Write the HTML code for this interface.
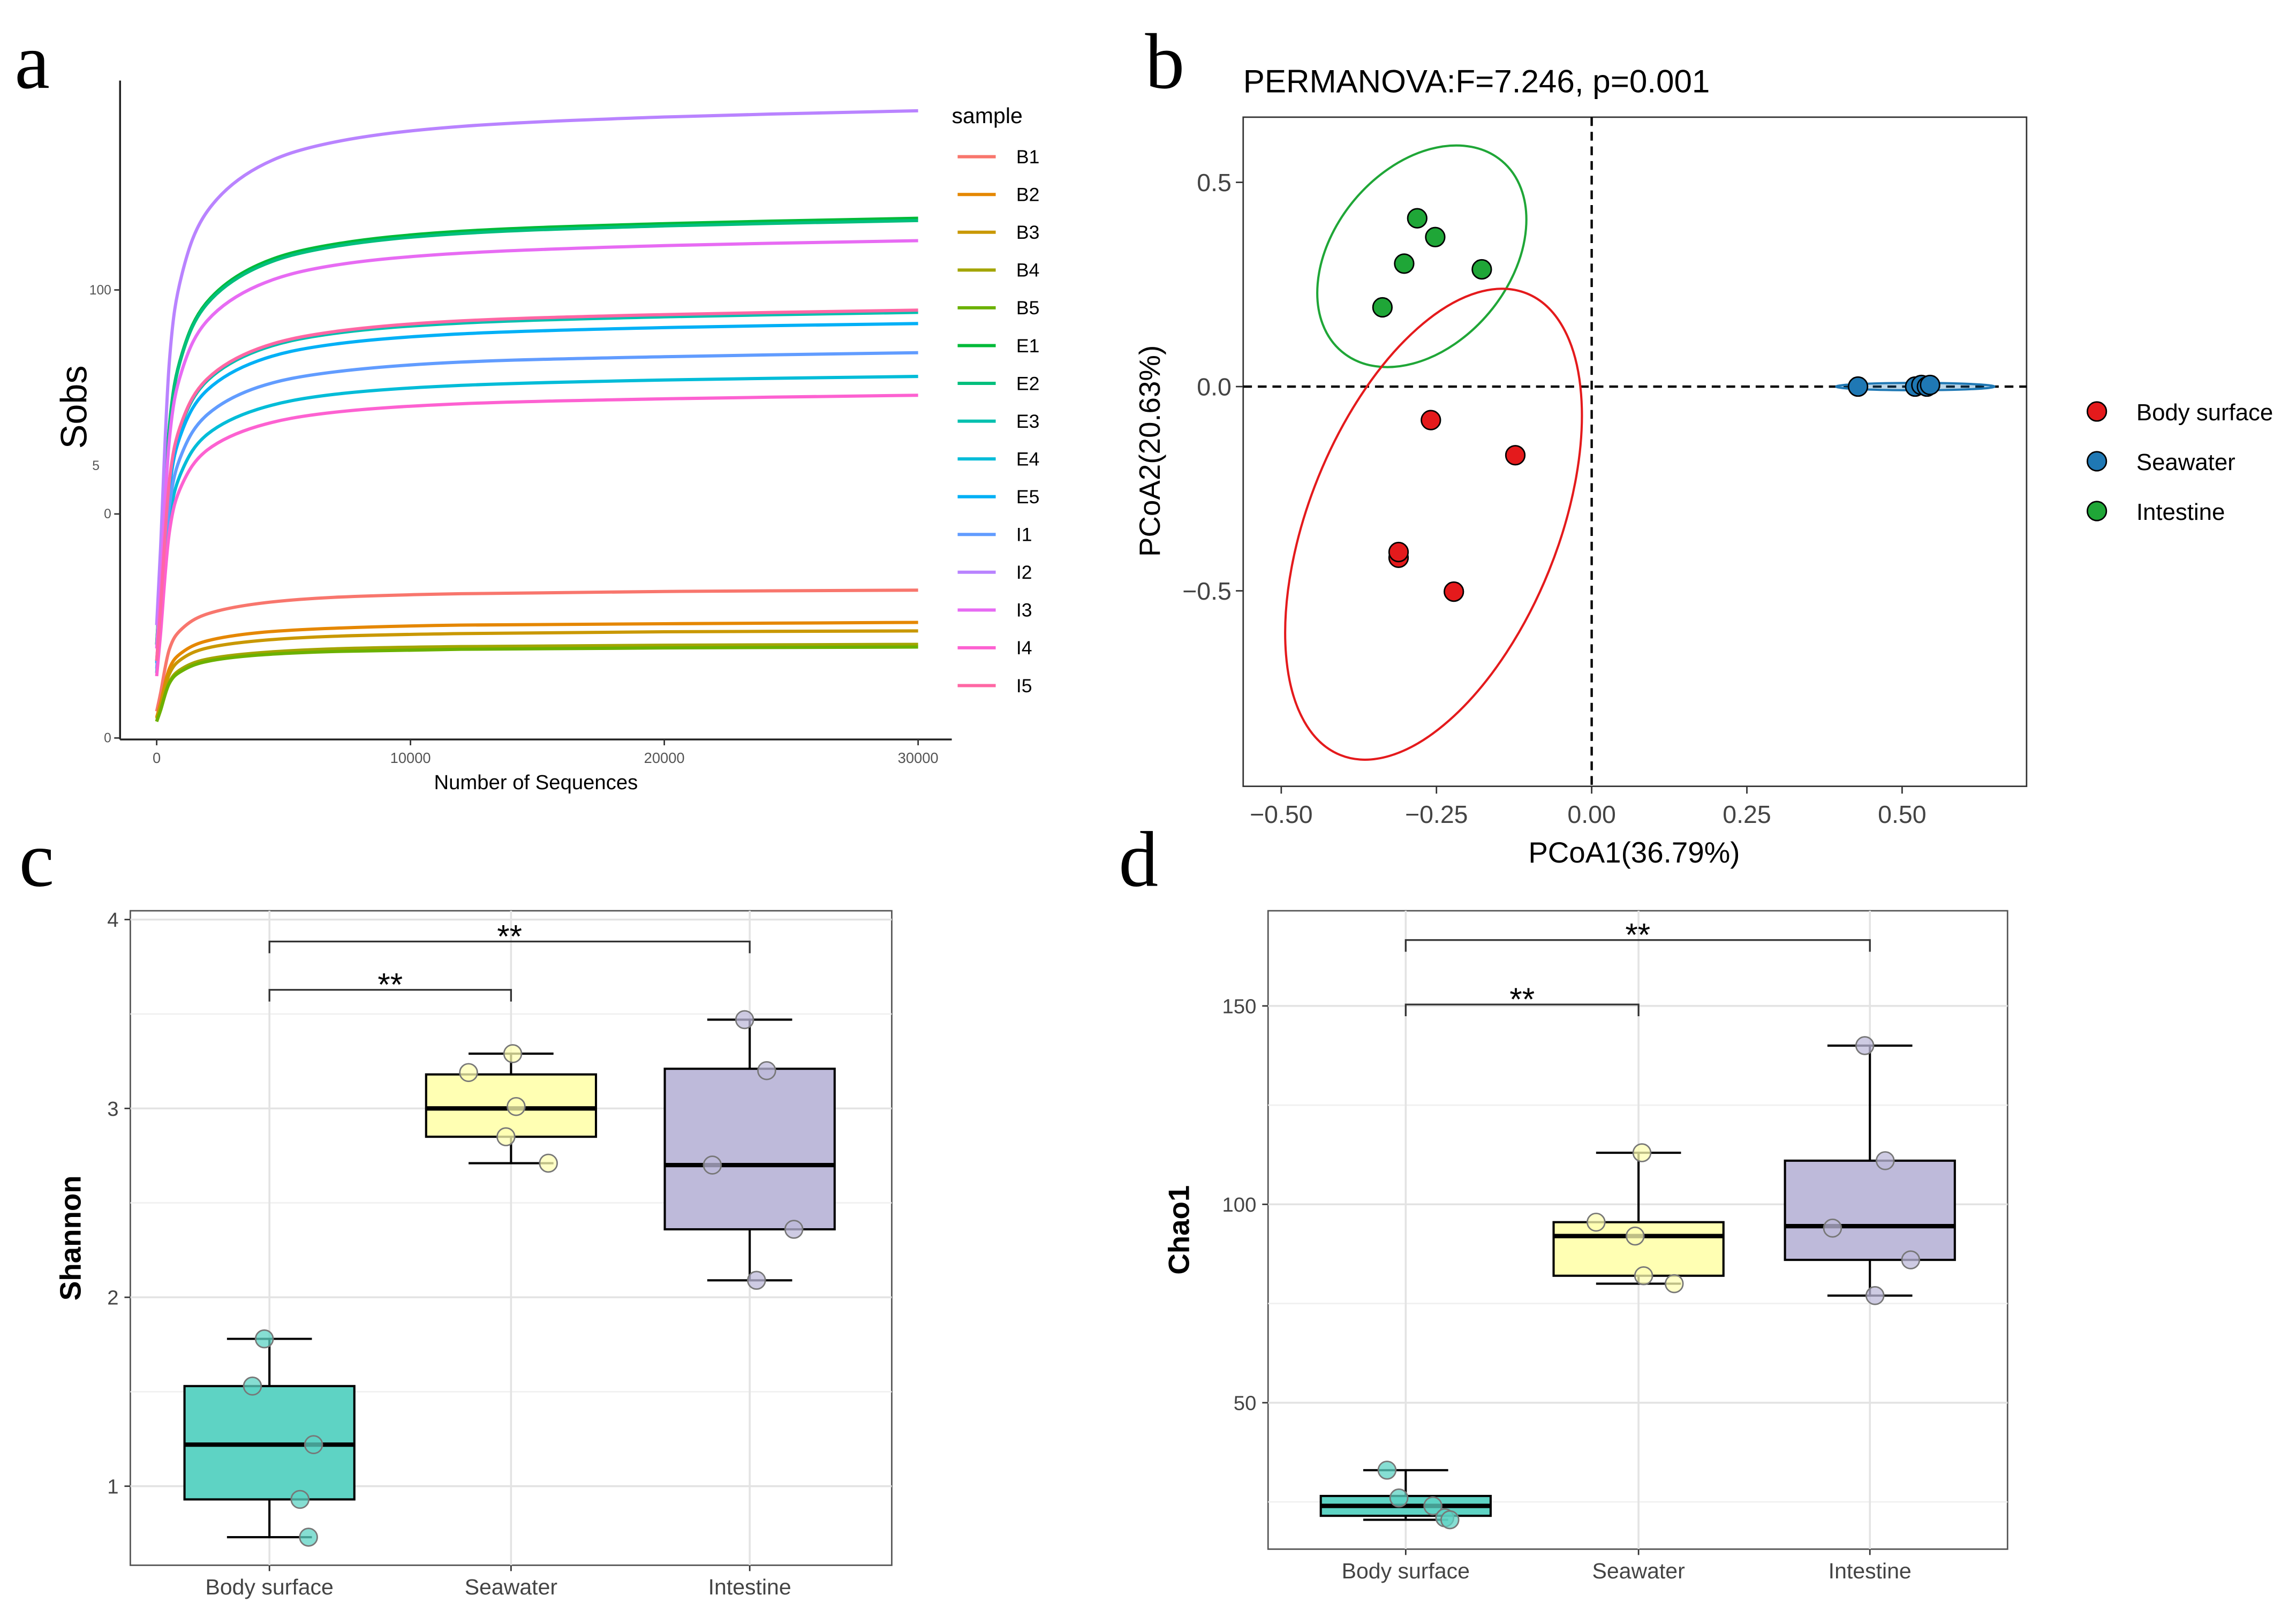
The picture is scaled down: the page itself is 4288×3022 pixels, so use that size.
<!DOCTYPE html>
<html><head><meta charset="utf-8">
<style>
html,body{margin:0;padding:0;background:#fff;}
svg{display:block;font-family:"Liberation Sans",sans-serif;}
</style></head>
<body>
<svg id="fig" width="4288" height="3022" viewBox="0 0 1568 1105" xmlns="http://www.w3.org/2000/svg">
<rect width="1568" height="1105" fill="#fff"/>
<g font-family="Liberation Serif,serif" font-size="54" fill="#000">
<text x="10" y="60">a</text>
<text x="782" y="60">b</text>
<text x="13" y="605">c</text>
<text x="764" y="605">d</text>
</g>
<g id="pa"></g>
<g id="pb"></g>
<g id="pc"></g>
<g id="pd"></g>
</svg>
<script>
// ---------- Panel a data ----------
const rareDepths = [150, 500, 1000, 2000, 4000, 7000, 12000, 20000, 30000];
const sampleNames = ["B1","B2","B3","B4","B5","E1","E2","E3","E4","E5","I1","I2","I3","I4","I5"];
const sampleColors = ["#F8766D","#E58700","#C99800","#A3A500","#6BB100","#00BA38","#00BF7D","#00C0AF","#00BCD8","#00B0F6","#619CFF","#B983FF","#E76BF3","#FD61D1","#FF67A4"];
const rareB1 = [9.9,19.8,24.4,27.7,30,31.4,32.2,32.7,33];
const rareB2 = [7.7,15.5,19.1,21.7,23.5,24.5,25.2,25.5,25.8];
const rareB3 = [7.2,14.3,17.7,20.1,21.7,22.7,23.3,23.7,23.9];
const rareB4 = [6.3,12.5,15.5,17.6,19,19.9,20.4,20.7,20.9];
const rareB5 = [6.1,12.2,15,17.1,18.5,19.3,19.8,20.1,20.3];
const rareE1 = [34.8,69.6,85.8,97.4,105.6,110.2,113.1,114.8,116];
const rareE2 = [34.7,69.3,85.5,97,105.1,109.7,112.6,114.3,115.5];
const rareE3 = [28.5,57,70.3,79.8,86.5,90.3,92.6,94,95];
const rareE4 = [24.2,48.4,59.7,67.8,73.4,76.7,78.7,79.9,80.7];
const rareE5 = [27.8,55.5,68.5,77.7,84.2,87.9,90.2,91.6,92.5];
const rareI1 = [25.8,51.6,63.6,72.2,78.3,81.7,83.9,85.1,86];
const rareI2 = [42,84,103.6,117.6,127.4,133,136.5,138.6,140];
const rareI3 = [33.3,66.6,82.1,93.2,101,105.5,108.2,109.9,111];
const rareI4 = [23,45.9,56.6,64.3,69.6,72.7,74.6,75.7,76.5];
const rareI5 = [28.7,57.3,70.7,80.2,86.9,90.7,93.1,94.5,95.5];
const rareSeries = [rareB1,rareB2,rareB3,rareB4,rareB5,rareE1,rareE2,rareE3,rareE4,rareE5,rareI1,rareI2,rareI3,rareI4,rareI5];
const aXTicks = [0,10000,20000,30000];
const aXTickLabels = ["0","10000","20000","30000"];
const aYTicks = [0,50,100];
// ---------- Panel b data ----------
const pcoaGroups = ["Body surface","Seawater","Intestine"];
const pcoaColors = ["#E41A1C","#1F78B4","#1FA637"];
const pcoaBodyX = [-0.259,-0.123,-0.311,-0.311,-0.222];
const pcoaBodyY = [-0.082,-0.168,-0.419,-0.405,-0.502];
const pcoaSeaX = [0.429,0.521,0.531,0.540,0.545];
const pcoaSeaY = [0,0,0.004,0,0.004];
const pcoaIntX = [-0.281,-0.252,-0.302,-0.177,-0.337];
const pcoaIntY = [0.412,0.366,0.301,0.287,0.194];
const bXTicks = [-0.5,-0.25,0,0.25,0.5];
const bXTickLabels = ["\u22120.50","\u22120.25","0.00","0.25","0.50"];
const bYTicks = [0.5,0,-0.5];
const bYTickLabels = ["0.5","0.0","\u22120.5"];
// ---------- Panel c/d data ----------
const boxCategories = ["Body surface","Seawater","Intestine"];
const boxFills = ["#5ED3C4","#FFFFB3","#BEBADA"];
const shannonBody = [0.73,0.93,1.22,1.53,1.78];
const shannonSea = [2.71,2.85,3.0,3.18,3.29];
const shannonInt = [2.09,2.36,2.70,3.21,3.47];
const shannonPtsBody = [1.78,1.53,1.22,0.93,0.73];
const shannonPtsSea = [3.29,3.19,3.01,2.85,2.71];
const shannonPtsInt = [3.47,3.2,2.7,2.36,2.09];
const jitterBody = [-0.03,-0.1,0.26,0.18,0.23];
const jitterSea = [0.01,-0.25,0.03,-0.03,0.22];
const jitterInt = [-0.03,0.1,-0.22,0.26,0.04];
const shannonTicks = [1,2,3,4];
const chaoBody = [20.5,21.5,24,26.5,33];
const chaoSea = [80,82,92,95.5,113];
const chaoInt = [77,86,94.5,111,140];
const chaoPtsBody = [33,26,24,21,20.5];
const chaoPtsSea = [113,95.5,92,82,80];
const chaoPtsInt = [140,111,94,86,77];
const chaoJitBody = [-0.11,-0.04,0.16,0.23,0.26];
const chaoJitSea = [0.02,-0.25,-0.02,0.03,0.21];
const chaoJitInt = [-0.03,0.09,-0.22,0.24,0.03];
const chaoTicks = [50,100,150];

const NS="http://www.w3.org/2000/svg";
function mk(parent,tag,attrs,text){const e=document.createElementNS(NS,tag);for(const k in attrs)e.setAttribute(k,attrs[k]);if(text!==undefined)e.textContent=text;parent.appendChild(e);return e;}

// ---------- Panel a ----------
(function(){
const g=document.getElementById('pa');
const x=v=>107+(v/30000)*520;
const y=v=>504-v*3.06;
mk(g,'line',{x1:82,y1:55,x2:82,y2:505,stroke:'#222','stroke-width':1.3});
mk(g,'line',{x1:82,y1:505,x2:650,y2:505,stroke:'#222','stroke-width':1.3});
aYTicks.forEach(t=>{
 const l=mk(g,'line',{x1:78,y1:y(t),x2:82,y2:y(t),stroke:'#333'});
 
 
});
mk(g,'text',{x:76,y:y(100)+3,'font-size':9,fill:'#555','text-anchor':'end'},"100");
mk(g,'text',{x:68,y:321,'font-size':9,fill:'#555','text-anchor':'end'},"5");
mk(g,'text',{x:76,y:y(50)+3,'font-size':9,fill:'#555','text-anchor':'end'},"0");
mk(g,'text',{x:76,y:y(0)+3,'font-size':9,fill:'#555','text-anchor':'end'},"0");
aXTicks.forEach((t,i)=>{
 mk(g,'line',{x1:x(t),y1:505,x2:x(t),y2:509,stroke:'#333'});
 const tx=mk(g,'text',{x:x(t),y:521,'font-size':10,fill:'#555','text-anchor':'middle'},aXTickLabels[i]);
 
 
});
mk(g,'text',{x:366,y:539,'font-size':14,'text-anchor':'middle',},"Number of Sequences");
mk(g,'text',{transform:'translate(59,278) rotate(-90)','font-size':25,'text-anchor':'middle',},"Sobs");
rareSeries.forEach((s,i)=>{
 const pts=[[x(0),y(s[0]*0.6)]].concat(s.map((v,j)=>[x(rareDepths[j]),y(v)]));
 let d='M'+pts[0][0]+','+pts[0][1];
 for(let k=0;k<pts.length-1;k++){
  const p0=pts[Math.max(0,k-1)],p1=pts[k],p2=pts[k+1],p3=pts[Math.min(pts.length-1,k+2)];
  const c1=[p1[0]+(p2[0]-p0[0])/6,p1[1]+(p2[1]-p0[1])/6];
  const c2=[p2[0]-(p3[0]-p1[0])/6,p2[1]-(p3[1]-p1[1])/6];
  d+=' C'+c1[0]+','+c1[1]+' '+c2[0]+','+c2[1]+' '+p2[0]+','+p2[1];
 }
 const p=mk(g,'path',{d:d,fill:'none',stroke:sampleColors[i],'stroke-width':2.2});
 
 
});
mk(g,'text',{x:650,y:84,'font-size':15,},"sample");
sampleNames.forEach((n,i)=>{
 const yy=107+i*25.8;
 const lg=mk(g,'g',{});
 
 
 mk(lg,'line',{x1:654,y1:yy,x2:680,y2:yy,stroke:sampleColors[i],'stroke-width':2.2});
 mk(lg,'text',{x:694,y:yy+4.5,'font-size':13},n);
});
})();

// ---------- Panel b ----------
(function(){
const g=document.getElementById('pb');
const x=v=>1087+v*424;
const y=v=>264-v*279;
mk(g,'rect',{x:849,y:80,width:535,height:457,fill:'none',stroke:'#333','stroke-width':1,});
mk(g,'text',{x:849,y:63,'font-size':22,},"PERMANOVA:F=7.246, p=0.001");
bXTicks.forEach((t,i)=>{
 mk(g,'line',{x1:x(t),y1:537,x2:x(t),y2:542,stroke:'#333'});
 const tx=mk(g,'text',{x:x(t),y:562,'font-size':17,fill:'#444','text-anchor':'middle'},bXTickLabels[i]);
 
 
});
bYTicks.forEach((t,i)=>{
 mk(g,'line',{x1:844,y1:y(t),x2:849,y2:y(t),stroke:'#333'});
 const tx=mk(g,'text',{x:841,y:y(t)+6,'font-size':17,fill:'#444','text-anchor':'end'},bYTickLabels[i]);
 
 
});
mk(g,'text',{x:1116,y:589,'font-size':20,'text-anchor':'middle',},"PCoA1(36.79%)");
mk(g,'text',{transform:'translate(792,308) rotate(-90)','font-size':20,'text-anchor':'middle',},"PCoA2(20.63%)");
mk(g,'line',{x1:849,y1:y(0),x2:1384,y2:y(0),stroke:'#000','stroke-width':1.6,'stroke-dasharray':'6,4'});
mk(g,'line',{x1:x(0),y1:80,x2:x(0),y2:537,stroke:'#000','stroke-width':1.6,'stroke-dasharray':'6,4'});
mk(g,'ellipse',{cx:971,cy:175,rx:85,ry:60,transform:'rotate(-50 971 175)',fill:'none',stroke:pcoaColors[2],'stroke-width':1.5,});
mk(g,'ellipse',{cx:979,cy:358,rx:170,ry:85,transform:'rotate(-68 979 358)',fill:'none',stroke:pcoaColors[0],'stroke-width':1.5,});
mk(g,'ellipse',{cx:1308,cy:264,rx:54,ry:2.5,fill:'#1F78B4','fill-opacity':0.3,stroke:pcoaColors[1],'stroke-width':1.5,});
[[pcoaBodyX,pcoaBodyY],[pcoaSeaX,pcoaSeaY],[pcoaIntX,pcoaIntY]].forEach((s,gi)=>{
 s[0].forEach((v,i)=>{
  const c=mk(g,'circle',{cx:x(v),cy:y(s[1][i]),r:6.5,fill:pcoaColors[gi],stroke:'#000','stroke-width':1});
  
  
 });
});
pcoaGroups.forEach((n,i)=>{
 const yy=281+i*34;
 const lg=mk(g,'g',{});
 
 
 mk(lg,'circle',{cx:1432,cy:yy,r:6.5,fill:pcoaColors[i],stroke:'#000','stroke-width':1});
 mk(lg,'text',{x:1459,y:yy+6,'font-size':16},n);
});
})();

// ---------- Box panels ----------
function boxPanel(gid,frame,cats,yfun,ticks,minor,stats,pts,jit,ylabel,ylx,brackets,tickLabelY){
 const g=document.getElementById(gid);
 const [L,T,R,B]=frame;
 mk(g,'rect',{x:L,y:T,width:R-L,height:B-T,fill:'#fff',stroke:'#555','stroke-width':1});
 minor.forEach(t=>mk(g,'line',{x1:L,y1:yfun(t),x2:R,y2:yfun(t),stroke:'#f0f0f0','stroke-width':1}));
 ticks.forEach(t=>mk(g,'line',{x1:L,y1:yfun(t),x2:R,y2:yfun(t),stroke:'#e3e3e3','stroke-width':1.3}));
 cats.forEach(c=>mk(g,'line',{x1:c,y1:T,x2:c,y2:B,stroke:'#e3e3e3','stroke-width':1.3}));
 ticks.forEach(t=>{
  mk(g,'line',{x1:L-4,y1:yfun(t),x2:L,y2:yfun(t),stroke:'#333'});
  const tx=mk(g,'text',{x:L-8,y:yfun(t)+5,'font-size':14,fill:'#444','text-anchor':'end'},String(t));
  
  
 });
 cats.forEach((c,i)=>{
  mk(g,'line',{x1:c,y1:B,x2:c,y2:B+4,stroke:'#333'});
  const tx=mk(g,'text',{x:c,y:tickLabelY,'font-size':15,fill:'#444','text-anchor':'middle'},boxCategories[i]);
  
  
 });
 mk(g,'text',{transform:'translate('+ylx+','+((T+B)/2)+') rotate(-90)','font-size':20,'font-weight':'bold','text-anchor':'middle',},ylabel);
 const hw=58;
 stats.forEach((s,i)=>{
  const c=cats[i];
  const bg=mk(g,'g',{});
  
  
  mk(bg,'line',{x1:c,y1:yfun(s[4]),x2:c,y2:yfun(s[3]),stroke:'#000','stroke-width':1.5});
  mk(bg,'line',{x1:c,y1:yfun(s[1]),x2:c,y2:yfun(s[0]),stroke:'#000','stroke-width':1.5});
  mk(bg,'line',{x1:c-29,y1:yfun(s[4]),x2:c+29,y2:yfun(s[4]),stroke:'#000','stroke-width':1.5});
  mk(bg,'line',{x1:c-29,y1:yfun(s[0]),x2:c+29,y2:yfun(s[0]),stroke:'#000','stroke-width':1.5});
  mk(bg,'rect',{x:c-hw,y:yfun(s[3]),width:2*hw,height:yfun(s[1])-yfun(s[3]),fill:boxFills[i],stroke:'#000','stroke-width':1.5});
  mk(bg,'line',{x1:c-hw,y1:yfun(s[2]),x2:c+hw,y2:yfun(s[2]),stroke:'#000','stroke-width':3});
  pts[i].forEach((v,j)=>{
   const p=mk(g,'circle',{cx:c+jit[i][j]*hw*2,cy:yfun(v),r:6,fill:boxFills[i],'fill-opacity':0.75,stroke:'#777','stroke-width':1});
   
   
  });
 });
 brackets.forEach(b=>{
  const [a,bb,yy]=b;
  const br=mk(g,'g',{});
  
  
  mk(br,'path',{d:'M'+cats[a]+','+(yy+8)+' V'+yy+' H'+cats[bb]+' V'+(yy+8),fill:'none',stroke:'#333','stroke-width':1.2});
  mk(br,'text',{x:(cats[a]+cats[bb])/2,y:yy+4,'font-size':22,'text-anchor':'middle'},"**");
 });
}
boxPanel('pc',[89,622,609,1069],[184,349,512],v=>1015-(v-1)*129,shannonTicks,[1.5,2.5,3.5],
 [shannonBody,shannonSea,shannonInt],[shannonPtsBody,shannonPtsSea,shannonPtsInt],[jitterBody,jitterSea,jitterInt],
 "Shannon",55,[[0,1,676],[0,2,643]],1089);
boxPanel('pd',[866,622,1371,1058],[960,1119,1277],v=>958-(v-50)*2.71,chaoTicks,[25,75,125],
 [chaoBody,chaoSea,chaoInt],[chaoPtsBody,chaoPtsSea,chaoPtsInt],[chaoJitBody,chaoJitSea,chaoJitInt],
 "Chao1",812,[[0,1,686],[0,2,642]],1078);
</script>
</body></html>
